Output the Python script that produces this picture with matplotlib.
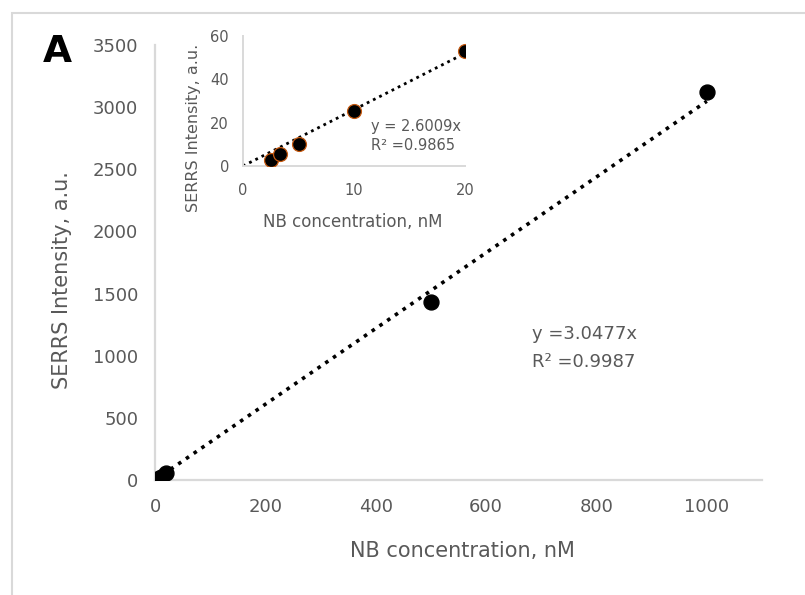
import matplotlib
matplotlib.use('Agg')
import matplotlib.pyplot as plt
from matplotlib.patches import Rectangle

# data
conc = [2.5, 3.3, 5, 10, 20, 500, 1000]
intensity = [2.8, 5.5, 10.1, 25.6, 52.9, 1434, 3120]
inset_conc = [2.5, 3.3, 5, 10, 20]
inset_intensity = [2.8, 5.5, 10.1, 25.6, 52.9]
slope_main = 3.0477
slope_inset = 2.6009
main_xticks = [0, 200, 400, 600, 800, 1000]
main_yticks = [0, 500, 1000, 1500, 2000, 2500, 3000, 3500]
inset_xticks = [0, 10, 20]
inset_yticks = [0, 20, 40, 60]

plt.rcParams['font.family'] = ['DejaVu Sans']
grey = '#595959'
spine_col = '#d9d9d9'
W, H = 805, 595


def px(x, y):
    # pixel position -> figure fraction
    return x / W, 1 - y / H


fig = plt.figure(figsize=(W / 100, H / 100), dpi=100)

# outer frame
fig.patches.append(Rectangle((12 / W, -0.1), 1.1, 1 - 13 / H + 0.1,
                             transform=fig.transFigure, fill=False,
                             edgecolor=spine_col, linewidth=1.5))

ax = fig.add_axes([155 / W, 1 - 480 / H, (762 - 155) / W, (480 - 45) / H])
ax.plot([0, 1000], [0, slope_main * 1000], linestyle=(0, (1, 1.6)),
        color='black', linewidth=2.6, zorder=2)
ax.scatter(conc, intensity, s=115, color='black', zorder=3)
ax.set_xlim(0, 1100)
ax.set_ylim(0, 3500)
ax.set_xticks(main_xticks)
ax.set_yticks(main_yticks)
for s in ['top', 'right']:
    ax.spines[s].set_visible(False)
for s in ['left', 'bottom']:
    ax.spines[s].set_color(spine_col)
    ax.spines[s].set_linewidth(1.6)
ax.tick_params(length=0, labelsize=13, labelcolor=grey)
ax.tick_params(axis='x', pad=13)
ax.tick_params(axis='y', pad=12)
fig.text(*px(462, 551), 'NB concentration, nM', fontsize=15, color=grey,
         ha='center', va='center')
fig.text(*px(62, 280), 'SERRS Intensity, a.u.', fontsize=15, color=grey,
         ha='center', va='center', rotation=90)
ax.text(683, 1250, 'y =3.0477x\nR² =0.9987', fontsize=13, color=grey,
        linespacing=1.75, ha='left', va='top')
fig.text(*px(57, 52), 'A', fontsize=27, fontweight='bold',
         ha='center', va='center')

ins = fig.add_axes([243 / W, 1 - 166 / H, (465 - 243) / W, (166 - 36) / H])
ins.plot([0, 20], [0, slope_inset * 20], linestyle=(0, (1, 1.5)),
         color='black', linewidth=2.0, zorder=2)
ins.scatter(inset_conc, inset_intensity, s=100, color='black',
            edgecolors='#c55a11', linewidths=0.9, zorder=3)
ins.set_xlim(0, 20)
ins.set_ylim(0, 60)
ins.set_xticks(inset_xticks)
ins.set_yticks(inset_yticks)
for s in ['top', 'right']:
    ins.spines[s].set_visible(False)
for s in ['left', 'bottom']:
    ins.spines[s].set_color(spine_col)
    ins.spines[s].set_linewidth(1.4)
ins.tick_params(length=0, labelsize=10.5, labelcolor=grey)
ins.tick_params(axis='x', pad=12)
ins.tick_params(axis='y', pad=10)
fig.text(*px(353, 222), 'NB concentration, nM', fontsize=12, color=grey,
         ha='center', va='center')
fig.text(*px(193, 128), 'SERRS Intensity, a.u.', fontsize=11.5, color=grey,
         ha='center', va='center', rotation=90)
ins.text(11.5, 6, 'y = 2.6009x\nR² =0.9865', fontsize=10.5, color=grey,
         linespacing=1.3, ha='left', va='bottom')

fig.savefig('out.png', dpi=100)
